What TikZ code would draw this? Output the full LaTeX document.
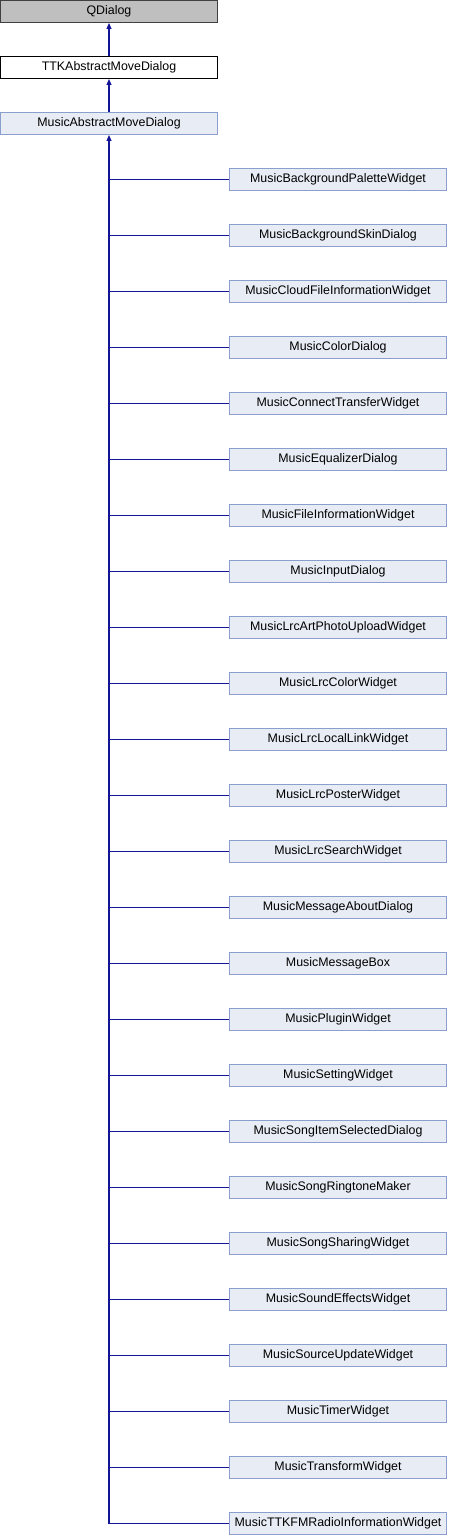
\documentclass[tikz,border=0pt]{standalone}
\usepackage{fontspec}
\setmainfont{Liberation Sans}
\usetikzlibrary{arrows.meta}
\definecolor{edgeblue}{HTML}{141496}
\definecolor{clsfill}{HTML}{E8ECF5}
\definecolor{clsdraw}{HTML}{8A9FCE}
\definecolor{rootfill}{HTML}{BFBFBF}
\definecolor{rootdraw}{HTML}{404040}
\begin{document}
\begin{tikzpicture}[x=1pt,y=1pt,
  box/.style={rectangle, minimum width=217pt, minimum height=22pt, inner sep=0pt, line width=1pt,
    font=\fontsize{12.4}{14}\selectfont, anchor=center},
  rootbox/.style={box, fill=rootfill, draw=rootdraw},
  plainbox/.style={box, fill=white, draw=black},
  clsbox/.style={box, fill=clsfill, draw=clsdraw},
  link/.style={draw=edgeblue, line width=1.1pt},
  edge/.style={link, -{Triangle[width=5pt,length=6pt]}}]
\useasboundingbox (0,0) rectangle (448,-1536);
\node[rootbox] (q) at (109,-11.5) {QDialog};
\node[plainbox] (ttk) at (109,-67.5) {TTKAbstractMoveDialog};
\node[clsbox] (m) at (109,-123.5) {MusicAbstractMoveDialog};
\draw[edge] (ttk) -- (q);
\draw[edge] (m) -- (ttk);
\foreach \t [count=\i from 0] in {MusicBackgroundPaletteWidget,MusicBackgroundSkinDialog,MusicCloudFileInformationWidget,MusicColorDialog,MusicConnectTransferWidget,MusicEqualizerDialog,MusicFileInformationWidget,MusicInputDialog,MusicLrcArtPhotoUploadWidget,MusicLrcColorWidget,MusicLrcLocalLinkWidget,MusicLrcPosterWidget,MusicLrcSearchWidget,MusicMessageAboutDialog,MusicMessageBox,MusicPluginWidget,MusicSettingWidget,MusicSongItemSelectedDialog,MusicSongRingtoneMaker,MusicSongSharingWidget,MusicSoundEffectsWidget,MusicSourceUpdateWidget,MusicTimerWidget,MusicTransformWidget,MusicTTKFMRadioInformationWidget}{
  \node[clsbox] (c\i) at (338,{-179.5-56*\i}) {\t};
  \coordinate (j\i) at (m.south |- c\i.west);
  \draw[link] (c\i.west) -- (j\i);
}
\draw[edge] (j24) -- (m.south);
\end{tikzpicture}
\end{document}
